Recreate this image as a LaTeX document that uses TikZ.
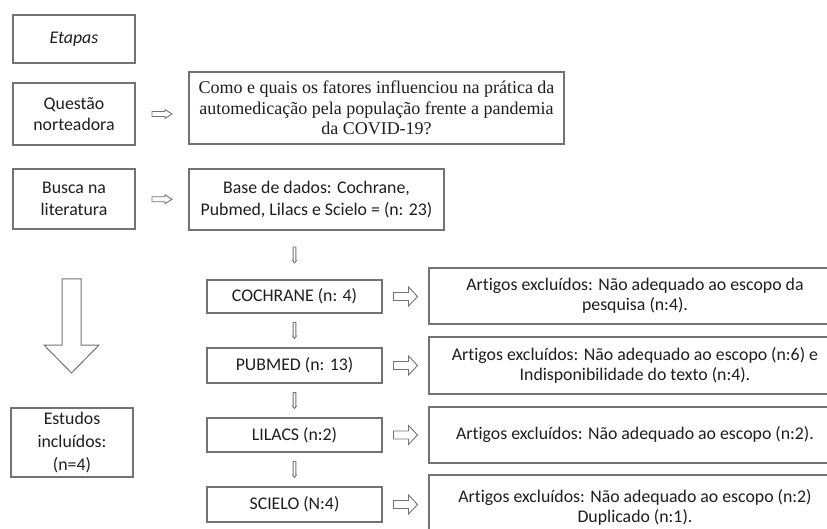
\documentclass[tikz,border=0pt]{standalone}
\usepackage{fontspec}
\setmainfont{Carlito}[Ligatures={NoCommon}]
\newfontfamily\timesf{Liberation Serif}
\usetikzlibrary{calc}
\definecolor{boxline}{RGB}{115,115,115}
\definecolor{txt}{RGB}{30,30,30}
\begin{document}
\begin{tikzpicture}[x=1pt,y=-1pt,
  box/.style={draw=boxline, line width=1.2pt, inner sep=0pt, align=center, text=txt,
    font=\fontsize{17.8}{20.5}\selectfont},
  rbox/.style={box, minimum width=412, font=\fontsize{17.8}{20}\selectfont},
  arrowline/.style={draw=boxline, line width=0.9pt, fill=white, line join=miter},
  harrow/.pic={\path[arrowline] (-12,-4) -- (3,-4) -- (3,-9.5) -- (12,0) -- (3,9.5) -- (3,4) -- (-12,4) -- cycle;},
  qarrow/.pic={\path[arrowline] (-10,-2.5) -- (3,-2.5) -- (3,-4.5) -- (10,0) -- (3,4.5) -- (3,2.5) -- (-10,2.5) -- cycle;},
  varrow/.pic={\path[arrowline] (-1.4,-8) -- (1.4,-8) -- (1.4,5.5) -- (1.9,5.5) -- (0,8) -- (-1.9,5.5) -- (-1.4,5.5) -- cycle;}
]
\useasboundingbox (0,0) rectangle (827,529);
\clip (0,0) rectangle (827,529);
\fill[white] (0,0) rectangle (827,529);

% left column
\node[box, minimum width=122, minimum height=48] (etapas) at (74,39) {\itshape Etapas};
\node[box, minimum width=122, minimum height=62] (quest) at (74,114) {Questão\\norteadora};
\node[box, minimum width=122, minimum height=60, font=\fontsize{17.8}{21.5}\selectfont] (busca) at (74,199) {Busca na\\literatura};
\node[box, minimum width=122, minimum height=69, font=\fontsize{17.8}{23}\selectfont] (estudos) at (72,442.5) {Estudos\\incluídos:\\(n=4)};

% middle column
\node[box, minimum width=375, minimum height=72, font=\timesf\fontsize{18}{20.5}\selectfont] (qtext) at (376.5,108)
  {Como e quais os fatores influenciou na prática da\\automedicação pela população frente a pandemia\\da COVID-19?};
\node[box, minimum width=255, minimum height=61, font=\fontsize{17.8}{22}\selectfont] (base) at (316.5,199.5)
  {Base de dados: Cochrane,\\Pubmed, Lilacs e Scielo = (n: 23)};
\node[box, minimum width=175, minimum height=33] (coch) at (294.5,296.5) {COCHRANE (n: 4)};
\node[box, minimum width=175, minimum height=35] (pub) at (294.5,365.5) {PUBMED (n: 13)};
\node[box, minimum width=175, minimum height=34] (lil) at (294.5,435) {LILACS (n:2)};
\node[box, minimum width=175, minimum height=35] (sci) at (294.5,504.5) {SCIELO (N:4)};

% right column
\node[rbox, minimum height=56] (r1) at (635,296)
  {Artigos excluídos: Não adequado ao escopo da\\pesquisa (n:4).};
\node[rbox, minimum height=57] (r2) at (635,365.5)
  {Artigos excluídos: Não adequado ao escopo (n:6) e\\Indisponibilidade do texto (n:4).};
\node[rbox, minimum height=56] (r3) at (635,435)
  {Artigos excluídos: Não adequado ao escopo (n:2).};
\node[rbox, minimum height=65] (r4) at (635,507.5)
  {Artigos excluídos: Não adequado ao escopo (n:2)\\Duplicado (n:1).};

% horizontal hollow arrows
\pic at ($(quest.east)!0.5!(qtext.west |- quest.east)$) {qarrow};
\pic at ($(busca.east)!0.5!(base.west)$) {qarrow};
\pic at ($(coch.east)!0.5!(r1.west |- coch.east)$) {harrow};
\pic at ($(pub.east)!0.5!(r2.west |- pub.east)$) {harrow};
\pic at ($(lil.east)!0.5!(r3.west |- lil.east)$) {harrow};
\pic at ($(sci.east)!0.5!(r4.west |- sci.east)$) {harrow};

% small vertical arrows
\pic at ($(base.south -| coch.north)!0.5!(coch.north)$) {varrow};
\pic at ($(coch.south)!0.5!(pub.north)$) {varrow};
\pic at ($(pub.south)!0.5!(lil.north)$) {varrow};
\pic at ($(lil.south)!0.5!(sci.north)$) {varrow};

% big hollow down arrow
\path[arrowline, line width=1pt] (62,279) -- (81,279) -- (81,345) -- (99,345) -- (71.5,373) -- (44,345) -- (62,345) -- cycle;
\end{tikzpicture}
\end{document}
